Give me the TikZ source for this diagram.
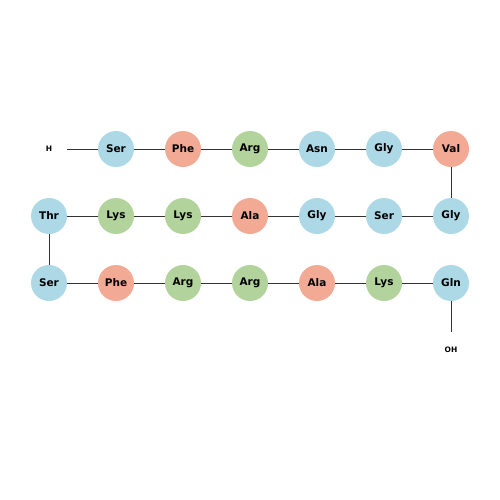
\documentclass[tikz,border=0pt]{standalone}
\usepackage{fontspec}
\setmainfont{DejaVu Sans}
\definecolor{cblue}{RGB}{173,216,230}
\definecolor{csal}{RGB}{243,170,148}
\definecolor{cgrn}{RGB}{178,211,155}
\definecolor{cline}{RGB}{51,51,51}
\begin{document}
\begin{tikzpicture}[x=1pt,y=1pt,
  aa/.style={circle,minimum size=36pt,inner sep=0pt,font=\bfseries\fontsize{10.5}{10.5}\selectfont},
  B/.style={aa,fill=cblue},
  S/.style={aa,fill=csal},
  G/.style={aa,fill=cgrn},
  term/.style={circle,minimum size=36pt,inner sep=0pt,font=\bfseries\fontsize{7.5}{7.5}\selectfont},
  bond/.style={draw=cline,line width=0.9pt}]
\useasboundingbox (0,0) rectangle (500,-500);
\node[term] (h) at (49,-149) {H};
\node[B] (a1) at (116,-149) {Ser};
\node[S] (a2) at (183,-149) {Phe};
\node[G] (a3) at (250,-149) {Arg};
\node[B] (a4) at (317,-149) {Asn};
\node[B] (a5) at (384,-149) {Gly};
\node[S] (a6) at (451,-149) {Val};
\node[B] (a7) at (451,-216) {Gly};
\node[B] (a8) at (384,-216) {Ser};
\node[B] (a9) at (317,-216) {Gly};
\node[S] (a10) at (250,-216) {Ala};
\node[G] (a11) at (183,-216) {Lys};
\node[G] (a12) at (116,-216) {Lys};
\node[B] (a13) at (49,-216) {Thr};
\node[B] (a14) at (49,-283) {Ser};
\node[S] (a15) at (116,-283) {Phe};
\node[G] (a16) at (183,-283) {Arg};
\node[G] (a17) at (250,-283) {Arg};
\node[S] (a18) at (317,-283) {Ala};
\node[G] (a19) at (384,-283) {Lys};
\node[B] (a20) at (451,-283) {Gln};
\node[term] (oh) at (451,-350) {OH};
\foreach \p/\q in {h/a1,a1/a2,a2/a3,a3/a4,a4/a5,a5/a6,a6/a7,a7/a8,a8/a9,a9/a10,a10/a11,a11/a12,a12/a13,a13/a14,a14/a15,a15/a16,a16/a17,a17/a18,a18/a19,a19/a20,a20/oh}
  \draw[bond] (\p) -- (\q);
\end{tikzpicture}
\end{document}
